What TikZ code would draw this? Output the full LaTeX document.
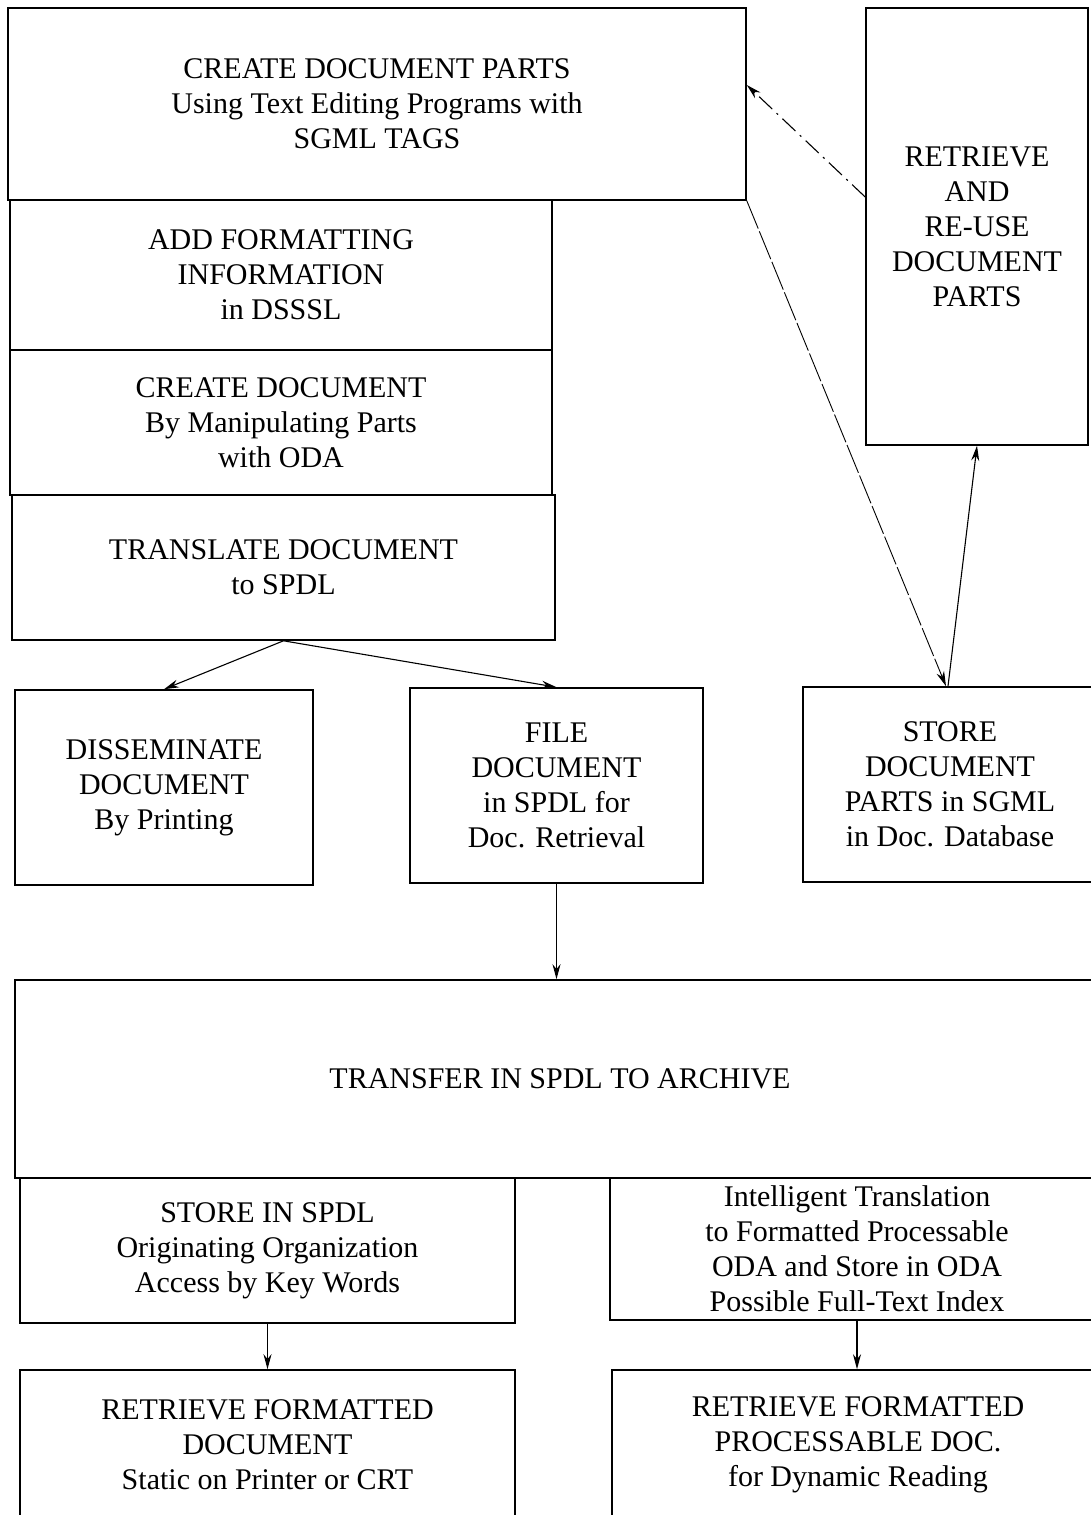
\documentclass[tikz,border=0pt]{standalone}
\usepackage{fontspec}
\setmainfont{Liberation Serif}
\usetikzlibrary{arrows.meta,calc}
\tikzset{
  box/.style={draw, line width=1.6pt, inner sep=0pt, align=center,
    font=\fontsize{30}{35}\selectfont},
  conn/.style={line width=1.1pt, -{Stealth[length=15pt,width=8pt]}},
  dashdot/.style={dash pattern=on 18pt off 6pt on 2pt off 6pt},
  broken/.style={dash pattern=on 30pt off 3pt}
}
\begin{document}
\begin{tikzpicture}[x=1pt,y=-1pt]
\useasboundingbox (0,0) rectangle (1091,1515);
\clip (0,0) rectangle (1091,1515);
\node[box, minimum width=738pt, minimum height=192pt] (cdp) at (377,104)
  {CREATE DOCUMENT PARTS\\Using Text Editing Programs with\\SGML TAGS};
\node[box, minimum width=542pt, minimum height=150pt] (add) at (281,275)
  {ADD FORMATTING\\INFORMATION\\in DSSSL};
\node[box, minimum width=542pt, minimum height=145pt] (cd) at (281,422.5)
  {CREATE DOCUMENT\\By Manipulating Parts\\with ODA};
\node[box, minimum width=543pt, minimum height=145pt] (tr) at (283.5,567.5)
  {TRANSLATE DOCUMENT\\to SPDL};
\node[box, minimum width=222pt, minimum height=437pt] (ret) at (977,226.5)
  {RETRIEVE\\AND\\RE-USE\\DOCUMENT\\PARTS};
\node[box, minimum width=298pt, minimum height=195pt] (dis) at (164,787.5)
  {DISSEMINATE\\DOCUMENT\\By Printing};
\node[box, minimum width=293pt, minimum height=195pt] (file) at (556.5,785.5)
  {FILE\\DOCUMENT\\in SPDL for\\Doc. Retrieval};
\node[box, minimum width=294pt, minimum height=195pt] (sto) at (950,784.5)
  {STORE\\DOCUMENT\\PARTS in SGML\\in Doc. Database};
\node[box, minimum width=1090pt, minimum height=198pt] (trans) at (560,1079)
  {TRANSFER IN SPDL TO ARCHIVE};
\node[box, minimum width=495pt, minimum height=145pt] (ssp) at (267.5,1250.5)
  {STORE IN SPDL\\Originating Organization\\Access by Key Words};
\node[box, minimum width=494pt, minimum height=142pt] (intel) at (857,1249)
  {Intelligent Translation\\to Formatted Processable\\ODA and Store in ODA\\Possible Full-Text Index};
\node[box, minimum width=495pt, minimum height=150pt] (rfd) at (267.5,1445)
  {RETRIEVE FORMATTED\\DOCUMENT\\Static on Printer or CRT};
\node[box, minimum width=492pt, minimum height=150pt] (rfp) at (858,1445)
  {RETRIEVE FORMATTED\\PROCESSABLE DOC.\\for Dynamic Reading};
% connectors
\draw[conn, dashdot] ([yshift=29.5pt]ret.west) -- ([yshift=19pt]cdp.east);
\draw[conn, broken, line width=0.9pt] (cdp.south east) -- ([xshift=-4pt]sto.north);
\draw[conn] ([xshift=-2pt]sto.north) -- (ret.south);
\draw[conn] (tr.south) -- (dis.north);
\draw[conn] (tr.south) -- (file.north);
\draw[conn] (file.south) -- (file.south |- trans.north);
\draw[conn] (ssp.south) -- (rfd.north);
\draw[conn] (intel.south) -- (intel.south |- rfp.north);
\end{tikzpicture}
\end{document}
